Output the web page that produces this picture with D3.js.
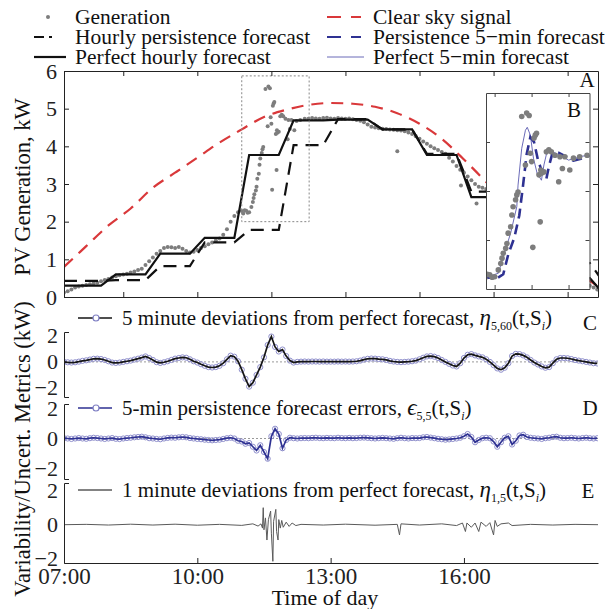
<!DOCTYPE html>
<html>
<head>
<meta charset="utf-8">
<script src="https://cdn.jsdelivr.net/npm/d3@7"></script>
<style>
  body { margin: 0; background: #fff; }
  svg text { font-family: "Liberation Serif", "Times New Roman", "DejaVu Serif", serif; }
</style>
</head>
<body>
<svg id="chart"></svg>
<script>
// ---- data (time in minutes after midnight, power in kW) ----

// measured generation: 5-min points, denser around the 11:00-12:25 ramp
const generation = [
  [420,0.12],[425,0.15],[430,0.2],[435,0.25],[440,0.28],[445,0.3],[450,0.32],[455,0.34],[460,0.36],[465,0.38],[470,0.42],[475,0.45],
  [480,0.48],[485,0.52],[490,0.55],[495,0.58],[500,0.6],[505,0.62],[510,0.65],[515,0.68],[520,0.72],[525,0.75],[530,0.85],[535,0.95],
  [540,1.05],[545,1.15],[550,1.22],[555,1.3],[560,1.33],[565,1.32],[570,1.3],[575,1.33],[580,1.28],[585,1.22],[590,1.18],[595,1.2],
  [600,1.25],[605,1.3],[610,1.35],[615,1.4],[620,1.45],[625,1.5],[630,1.55],[635,1.65],[640,1.8],[645,2.0],[650,2.15],[655,2.25],
  [660,2.28],[662,2.22],[664,2.3],[666,2.29],[668,2.24],[670,2.25],[673,2.39],[675,2.52],[676,2.63],[677,2.73],[679,2.83],[680,2.93],
  [681,3.14],[683,3.27],[684,3.51],[685,3.68],[687,3.82],[688,3.92],[689,3.98],[692,5.52],[695,4.53],[696,5.59],[698,5.54],[699,4.77],
  [700,4.6],[701,2.85],[702,5.08],[703,5.14],[704,5.18],[706,4.33],[707,3.37],[707.5,4.43],[708,4.36],[710,4.39],[712,4.8],[714,4.84],
  [716,4.8],[719,4.73],[722,4.19],[723,4.7],[725,4.46],[727,4.7],[731,4.43],[734,4.67],[739,4.7],[745,4.73],
  [750,4.73],[755,4.75],[760,4.74],[765,4.73],[770,4.75],[775,4.76],
  [780,4.74],[785,4.73],[790,4.75],[795,4.74],[800,4.73],[805,4.74],[810,4.72],[815,4.7],[820,4.68],[825,4.64],[830,4.58],[835,4.52],
  [840,4.5],[845,4.48],[850,4.47],[855,4.46],[860,4.45],[865,4.44],[870,4.43],[875,4.42],[880,4.4],[885,4.37],[890,4.33],[895,4.27],
  [900,4.2],[905,4.13],[910,4.07],[915,4.0],[920,3.95],[925,3.9],[930,3.85],[935,3.8],[940,3.7],[945,3.6],[950,3.48],[955,3.38],
  [960,3.3],[965,3.2],[970,3.1],[975,3.0],[980,2.93],[985,2.9],[990,2.87],
  [870,3.87],[956,2.96],[977,2.48],
  [1130,0.3],[1135,0.25],[1140,0.2]
];

// clear sky signal, every 30 min from 07:00 to 19:00
const clearSkyMin = [420,450,480,510,540,570,600,630,660,690,720,750,780,810,840,870,900,930,960,990,1020,1050,1080,1110,1140];
const clearSkyKW  = [0.8,1.35,1.9,2.35,2.9,3.3,3.7,4.1,4.45,4.78,4.97,5.1,5.15,5.13,5.05,4.88,4.6,4.2,3.65,3.05,2.4,1.8,1.2,0.7,0.3];

// hourly values, hours 07..19
const hours = [7,8,9,10,11,12,13,14,15,16,17,18,19];
const perfectHourly     = [0.3,0.6,1.15,1.57,3.77,4.69,4.71,4.45,3.77,2.65,1.75,0.5,0.05];
const persistenceHourly = [0.43,0.45,0.82,1.45,1.78,4.03,4.72,4.45,3.8,2.8,2.0,0.9,0.35];

// inset B: 5-min forecasts around the ramp
const perfect5 = [[660,2.22],[669,2.29],[673,2.32],[677,2.66],[683,3.14],[688,3.68],[689,4.12],[692,4.87],[695,5.24],[696.5,5.3],
  [699,5.14],[701.5,4.67],[704.5,4.36],[708,4.22],[710,4.53],[712.5,4.8],[717,4.8],[723,4.73],[730,4.63],[735.5,4.67],[741,4.71],[747,4.73]];
const persistence5 = [[660,2.24],[672,2.22],[677,2.3],[681,2.7],[686,3.05],[690,3.5],[693,4.1],[696,4.75],[699,5.1],[702,5.0],
  [705,4.65],[709,4.35],[712,4.25],[714,4.5],[717,4.78],[722,4.78],[728,4.7],[734,4.62],[740,4.66],[747,4.72]];
const zoomWindow = { t0: 660, t1: 751, v0: 2, v1: 5.87 };

// panel C: 5 minute deviations from perfect forecast, 07:00..19:00 every 5 min
const etaC = [
  0,-0.03,-0.05,-0.03,0.02,0.08,0.12,0.18,0.24,0.25,0.22,0.15,
  0.05,-0.05,-0.08,-0.05,0,0.05,0.1,0.18,0.25,0.33,0.42,0.3,
  0.15,-0.02,-0.08,-0.03,0.05,0.15,0.25,0.3,0.35,0.32,0.2,0.05,
  -0.05,-0.18,-0.3,-0.4,-0.43,-0.4,-0.3,-0.1,0.2,0.48,0.4,0.05,
  -0.6,-1.3,-1.9,-1.6,-1.0,-0.4,0.35,1.3,1.95,1.15,0.8,0.95,
  0.45,0.1,-0.05,0,0.02,0.03,0.02,0.03,0.03,0.02,0.03,0.02,
  0.02,0.02,0.03,0.02,0.03,0.02,0.03,0.05,0.1,0.18,0.24,0.26,
  0.25,0.22,0.2,0.15,0.08,0.03,0,-0.02,0,0.02,0.05,0.1,
  0.2,0.32,0.42,0.45,0.4,0.3,0.15,0,-0.15,-0.28,-0.35,-0.1,
  0.3,0.55,0.6,0.5,0.42,0.35,0.2,0,-0.25,-0.5,-0.6,-0.45,
  -0.1,0.45,0.62,0.6,0.5,0.35,0.15,-0.05,-0.2,-0.35,-0.45,-0.4,
  -0.1,0.2,0.3,0.3,0.28,0.22,0.15,0.1,0.05,0,-0.05,-0.1,
  -0.12
];

// panel D: 5-min persistence forecast errors, same grid
const epsD = [
  0.02,0,-0.03,0,0.03,0,-0.02,0.02,0.05,0.03,0,-0.03,
  0,0.03,-0.02,-0.04,0,0.03,0.05,0.08,0.1,0.12,0.08,0.02,
  0,-0.03,-0.05,0,0.04,0.06,0.05,0.08,0.1,0.08,0.03,0,
  -0.03,-0.05,-0.08,-0.1,-0.12,-0.1,-0.08,-0.03,0.02,0.05,0,-0.15,
  -0.2,-0.35,-0.3,-0.55,-0.8,-0.45,-0.9,-1.35,0.15,0.65,0.3,-0.65,
  -0.1,0.05,0.02,0,0.02,0.03,0.02,0.04,0.05,0.03,0.02,0.04,
  0.03,0.02,0.05,0.03,0.02,0.04,0.02,0.03,0.05,0.06,0.04,0.02,
  0,0.02,0.04,0.02,0,-0.02,0.02,0.05,0.02,0,0.03,0.02,
  0.03,0.08,0.1,0.06,0.02,-0.02,-0.05,-0.08,-0.06,-0.03,0,0.05,
  0.15,0.3,0.1,-0.25,-0.1,0.02,0.05,0.02,-0.2,-0.55,-0.25,0.05,
  0.15,-0.4,-0.15,0.2,0.25,0.1,0.05,0.02,0,-0.03,0.02,0.05,
  0.1,0.12,0.05,0.02,0.03,0.05,0.02,0,0.03,0.05,0.02,0,
  0.02
];

// panel E: 1 minute deviations (minute, kW)
const etaE = [
  [420,0],[450,0.02],[480,-0.02],[510,0.03],[540,-0.02],[570,0.03],[600,-0.03],[630,0.02],[660,-0.04],[675,0.05],[682,-0.08],
  [686,0.05],[688,-0.2],[689,1.0],[690,-0.3],[692,0.4],[694,-0.9],[696,0.3],[699,0.8],[700,-0.5],[702,-2.15],[703,0.2],
  [706,0.9],[707,-0.4],[709,-0.9],[710,0.3],[712,-0.2],[714,0.25],[716,-0.15],[720,0.15],[724,-0.1],[728,0.1],[733,-0.05],
  [740,0.02],[770,-0.02],[800,0.03],[840,-0.03],[870,0.02],[873,-0.6],[875,0.05],[900,-0.02],[930,0.05],[950,-0.05],
  [958,0.1],[962,-0.4],[964,0.1],[970,-0.15],[975,0.1],[980,-0.4],[983,0.15],[990,-0.1],[995,0.12],[1000,-0.6],[1002,0.25],
  [1005,-0.1],[1010,0.05],[1020,0.1],[1025,-0.05],[1050,0.02],[1080,-0.02],[1110,0.02],[1141,0]
];

const aTicks = [500,600,700,800,900,1000,1100];
const timeTicks = [420,600,780,960];
const insetTicksX = [670,700,730];

// ---- drawing ----
const svg = d3.select("#chart").attr("width", 605).attr("height", 609);

const x = d3.scaleLinear().domain([420, 1141]).range([64, 598]);
const yA = d3.scaleLinear().domain([0, 6]).range([297, 71]);
const xB = d3.scaleLinear().domain([663, 747]).range([486, 589.5]);
const yB = d3.scaleLinear().domain([2, 6]).range([289, 93]);
const yC = d3.scaleLinear().domain([-2.7, 2.3]).range([397, 332]);
const yD = d3.scaleLinear().domain([-2.7, 2.3]).range([479, 404]);
const yE = d3.scaleLinear().domain([-2.25, 2.45]).range([563, 483]);

const fiveMin = etaC.map((d, i) => 420 + 5 * i);
const hourSteps = vals => vals.flatMap((v, i) => {
  const h0 = hours[i] * 60;
  return [[h0 + (i ? 10 : 0), v], [h0 + 50, v]];
});
const minus = d => d < 0 ? "\u2212" + Math.abs(d) : String(d);

function styleAxis(a, size) {
  a.attr("font-family", null);
  a.selectAll("path, line").attr("stroke", "#222").attr("stroke-width", 1);
  a.selectAll("text").attr("font-size", size || 21).attr("fill", "#222");
  return a;
}
function label(xp, yp, s, size, anchor) {
  return svg.append("text").attr("x", xp).attr("y", yp).attr("text-anchor", anchor || "middle")
    .attr("font-size", size || 21).attr("fill", "#111").text(s);
}

const defs = svg.append("defs");
defs.append("clipPath").attr("id", "clipA").append("rect")
  .attr("x", 64).attr("y", 71).attr("width", 534).attr("height", 226);
defs.append("clipPath").attr("id", "clipB").append("rect")
  .attr("x", 486).attr("y", 93).attr("width", 103.5).attr("height", 196);
defs.append("clipPath").attr("id", "clipX").append("rect")
  .attr("x", 64).attr("y", 320).attr("width", 534).attr("height", 250);

// ---------- panel A ----------
const gA = svg.append("g").attr("clip-path", "url(#clipA)");

gA.append("g").selectAll("circle").data(generation).join("circle")
  .attr("cx", d => x(d[0])).attr("cy", d => yA(d[1])).attr("r", 2)
  .attr("fill", "#7d7d7d");

gA.append("path")
  .datum(clearSkyMin.map((t, i) => [t, clearSkyKW[i]]))
  .attr("fill", "none").attr("stroke", "#d9383a").attr("stroke-width", 2.2)
  .attr("stroke-dasharray", "12,8")
  .attr("d", d3.line().x(d => x(d[0])).y(d => yA(d[1])).curve(d3.curveMonotoneX));

const stepLine = d3.line().x(d => x(d[0])).y(d => yA(d[1]));
gA.append("path").datum(hourSteps(persistenceHourly))
  .attr("fill", "none").attr("stroke", "#111").attr("stroke-width", 2.2)
  .attr("stroke-dasharray", "13,8").attr("d", stepLine);
gA.append("path").datum(hourSteps(perfectHourly))
  .attr("fill", "none").attr("stroke", "#111").attr("stroke-width", 2.2)
  .attr("d", stepLine);

// dotted zoom window
svg.append("rect")
  .attr("x", x(zoomWindow.t0)).attr("y", yA(zoomWindow.v1))
  .attr("width", x(zoomWindow.t1) - x(zoomWindow.t0))
  .attr("height", yA(zoomWindow.v0) - yA(zoomWindow.v1))
  .attr("fill", "none").attr("stroke", "#888").attr("stroke-width", 1)
  .attr("stroke-dasharray", "2,2");

// frame of A
styleAxis(svg.append("g").attr("transform", "translate(64,0)")
  .call(d3.axisLeft(yA).ticks(6).tickSizeInner(-5).tickSizeOuter(0).tickPadding(7)), 22);
styleAxis(svg.append("g").attr("transform", "translate(598,0)")
  .call(d3.axisRight(yA).ticks(6).tickSizeInner(-5).tickSizeOuter(0).tickFormat("")));
styleAxis(svg.append("g").attr("transform", "translate(0,71)")
  .call(d3.axisTop(x).tickValues(aTicks).tickSizeInner(-5).tickSizeOuter(0).tickFormat("")));
styleAxis(svg.append("g").attr("transform", "translate(0,297)")
  .call(d3.axisBottom(x).tickValues(aTicks).tickSizeInner(-5).tickSizeOuter(0).tickFormat("")));

// ---------- inset B ----------
svg.append("rect").attr("x", 486).attr("y", 93).attr("width", 103.5).attr("height", 196)
  .attr("fill", "#fff");
const gB = svg.append("g").attr("clip-path", "url(#clipB)");
gB.append("path").datum(perfect5)
  .attr("fill", "none").attr("stroke", "#5a5ab0").attr("stroke-width", 0.9)
  .attr("d", d3.line().x(d => xB(d[0])).y(d => yB(d[1])));
gB.append("path").datum(persistence5)
  .attr("fill", "none").attr("stroke", "#2e3192").attr("stroke-width", 2.6)
  .attr("stroke-dasharray", "10,6")
  .attr("d", d3.line().x(d => xB(d[0])).y(d => yB(d[1])));
gB.append("g").selectAll("circle").data(generation).join("circle")
  .attr("cx", d => xB(d[0])).attr("cy", d => yB(d[1])).attr("r", 2.8)
  .attr("fill", "#7d7d7d");

const insetAxes = [
  [d3.axisLeft(yB).tickValues([3,4,5]), 486, 0],
  [d3.axisRight(yB).tickValues([3,4,5]), 589.5, 0],
  [d3.axisTop(xB).tickValues(insetTicksX), 0, 93],
  [d3.axisBottom(xB).tickValues(insetTicksX), 0, 289]
];
insetAxes.forEach(([ax, tx, ty]) => {
  const a = svg.append("g").attr("transform", `translate(${tx},${ty})`)
    .call(ax.tickSizeInner(-4).tickSizeOuter(0).tickFormat(""));
  a.selectAll("path, line").attr("stroke", "#444");
});

label(587, 87, "A");
label(574, 117, "B");

// ---------- top legend ----------
const leg = svg.append("g");
const legRows = [17, 37, 57];
leg.append("circle").attr("cx", 48).attr("cy", legRows[0]).attr("r", 2).attr("fill", "#7d7d7d");
leg.append("line").attr("x1", 34).attr("x2", 52).attr("y1", legRows[1]).attr("y2", legRows[1])
  .attr("stroke", "#111").attr("stroke-width", 2.2).attr("stroke-dasharray", "10,5");
leg.append("line").attr("x1", 34).attr("x2", 66).attr("y1", legRows[2]).attr("y2", legRows[2])
  .attr("stroke", "#111").attr("stroke-width", 2.2);
["Generation", "Hourly persistence forecast", "Perfect hourly forecast"].forEach((s, i) =>
  label(75, legRows[i] + 7, s, 21.5, "start"));

leg.append("line").attr("x1", 327).attr("x2", 361).attr("y1", legRows[0]).attr("y2", legRows[0])
  .attr("stroke", "#d9383a").attr("stroke-width", 2.2).attr("stroke-dasharray", "14,10");
leg.append("line").attr("x1", 327).attr("x2", 361).attr("y1", legRows[1]).attr("y2", legRows[1])
  .attr("stroke", "#2e3192").attr("stroke-width", 2.2).attr("stroke-dasharray", "14,10");
leg.append("line").attr("x1", 327).attr("x2", 364).attr("y1", legRows[2]).attr("y2", legRows[2])
  .attr("stroke", "#5a5ab0").attr("stroke-width", 0.9);
["Clear sky signal", "Persistence 5\u2212min forecast", "Perfect 5\u2212min forecast"].forEach((s, i) =>
  label(373, legRows[i] + 7, s, 21.5, "start"));

// ---------- panels C, D, E ----------
function zeroLine(y) {
  svg.append("line").attr("x1", 64).attr("x2", 598).attr("y1", y(0)).attr("y2", y(0))
    .attr("stroke", "#999").attr("stroke-width", 1).attr("stroke-dasharray", "2,2");
}
function leftBracket(y) {
  styleAxis(svg.append("g").attr("transform", "translate(64,0)")
    .call(d3.axisLeft(y).tickValues([-2, 0, 2]).tickSizeInner(0).tickSizeOuter(-5)
      .tickPadding(6).tickFormat(minus)), 22);
}
function metricLabel(yPos, lead, sym, sub, markerColor, withCircle) {
  svg.append("line").attr("x1", 78).attr("x2", 112).attr("y1", yPos).attr("y2", yPos)
    .attr("stroke", markerColor).attr("stroke-width", withCircle ? 1.6 : 1.4);
  if (withCircle) {
    svg.append("circle").attr("cx", 96).attr("cy", yPos).attr("r", 3)
      .attr("fill", "#fff").attr("stroke", "#7f7fc4").attr("stroke-width", 1.2);
  }
  const t = svg.append("text").attr("x", 122).attr("y", yPos + 7)
    .attr("font-size", 21).attr("fill", "#111");
  t.append("tspan").text(lead);
  t.append("tspan").attr("font-style", "italic").attr("font-size", 23).text(sym);
  t.append("tspan").attr("font-size", 12).attr("dy", 5).text(sub);
  t.append("tspan").attr("dy", -5).text("(t,S");
  t.append("tspan").attr("font-style", "italic").attr("font-size", 12).attr("dy", 5).text("i");
  t.append("tspan").attr("dy", -5).text(")");
}
function beadedSeries(vals, y, lineColor) {
  const g = svg.append("g").attr("clip-path", "url(#clipX)");
  g.append("g").selectAll("circle").data(vals).join("circle")
    .attr("cx", (d, i) => x(fiveMin[i])).attr("cy", d => y(d)).attr("r", 2.6)
    .attr("fill", "none").attr("stroke", "#8f8fcc").attr("stroke-width", 1);
  g.append("path").datum(vals)
    .attr("fill", "none").attr("stroke", lineColor).attr("stroke-width", 1.7)
    .attr("d", d3.line().x((d, i) => x(fiveMin[i])).y(d => y(d)));
}

// C
zeroLine(yC);
beadedSeries(etaC, yC, "#151515");
leftBracket(yC);
metricLabel(318, "5 minute deviations from perfect forecast, ", "\u03b7", "5,60", "#151515", true);
label(590, 330, "C");

// D
zeroLine(yD);
beadedSeries(epsD, yD, "#2e3192");
leftBracket(yD);
metricLabel(408, "5-min persistence forecast errors, ", "\u03f5", "5,5", "#2e3192", true);
label(590, 415, "D");

// E
svg.append("g").attr("clip-path", "url(#clipX)").append("path").datum(etaE)
  .attr("fill", "none").attr("stroke", "#5a5a5a").attr("stroke-width", 1)
  .attr("d", d3.line().x(d => x(d[0])).y(d => yE(d[1])));
leftBracket(yE);
metricLabel(490, "1 minute deviations from perfect forecast, ", "\u03b7", "1,5", "#5a5a5a", false);
label(588, 498, "E");

const fmt = t => d3.timeFormat("%H:%M")(new Date(2000, 0, 1, 0, t));
styleAxis(svg.append("g").attr("transform", "translate(0,563)")
  .call(d3.axisBottom(x).tickValues(timeTicks).tickSizeInner(-5).tickSizeOuter(0)
    .tickPadding(5).tickFormat(fmt)), 23);

// axis titles
svg.append("text").attr("transform", "translate(30,187) rotate(-90)").attr("text-anchor", "middle")
  .attr("font-size", 22.5).attr("fill", "#111").text("PV Generation, kW");
svg.append("text").attr("transform", "translate(30,449) rotate(-90)").attr("text-anchor", "middle")
  .attr("font-size", 22.5).attr("fill", "#111").text("Variability/Uncert. Metrics (kW)");
label(325, 605, "Time of day", 22);
</script>
</body>
</html>
